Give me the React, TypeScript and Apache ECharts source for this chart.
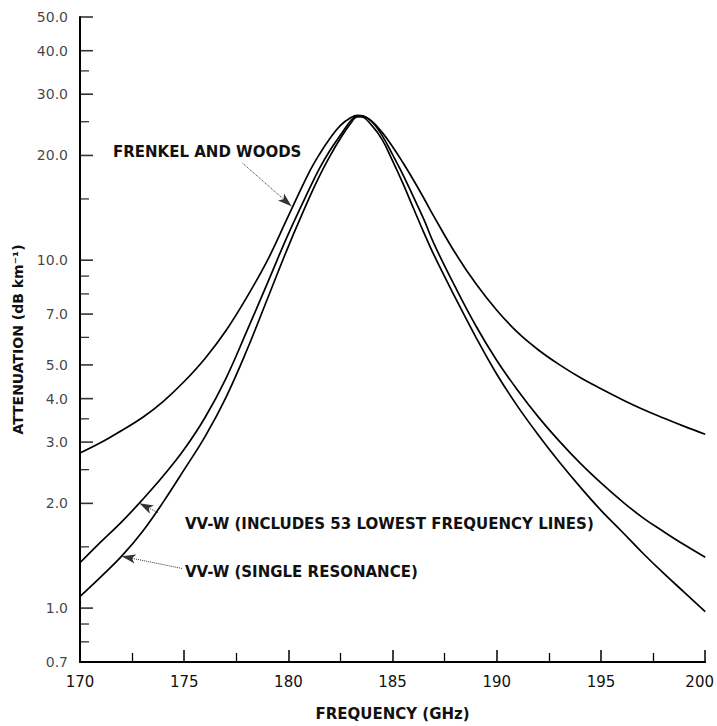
import React, { useEffect, useRef } from "react";
import * as echarts from "echarts";

// Frequency grid (GHz)
const freq = [170, 171, 172, 173, 174, 175, 176, 177, 178, 179, 180, 181, 181.5, 182, 182.5, 183, 183.3, 183.5, 184, 184.5, 185, 185.5, 186, 186.5, 187, 188, 189, 190, 191, 192, 193, 194, 195, 196, 197, 198, 199, 200];

// Attenuation (dB/km)
const frenkelWoods = [2.79, 2.99, 3.24, 3.53, 3.93, 4.48, 5.22, 6.27, 7.82, 10.0, 13.4, 17.9, 20.2, 22.4, 24.4, 25.7, 26.1, 26.05, 25.1, 23.3, 21.2, 19.05, 17.0, 15.07, 13.3, 10.5, 8.55, 7.18, 6.2, 5.52, 5.01, 4.6, 4.27, 3.98, 3.73, 3.52, 3.33, 3.16];
const vvw53 = [1.35, 1.55, 1.77, 2.05, 2.4, 2.86, 3.53, 4.57, 6.24, 8.61, 11.9, 16.0, 18.4, 20.7, 22.9, 25.2, 26.0, 26.0, 25.0, 22.8, 20.1, 17.6, 15.2, 13.1, 11.1, 8.39, 6.47, 5.15, 4.23, 3.54, 3.02, 2.61, 2.29, 2.03, 1.82, 1.66, 1.52, 1.4];
const vvwSingle = [1.08, 1.23, 1.41, 1.66, 2.02, 2.5, 3.11, 4.03, 5.5, 7.76, 10.96, 15.1, 17.5, 19.95, 22.4, 24.8, 25.8, 25.8, 24.4, 22.2, 19.3, 16.6, 14.1, 12.0, 10.3, 7.82, 6.0, 4.7, 3.8, 3.14, 2.63, 2.23, 1.91, 1.66, 1.44, 1.26, 1.11, 0.977];

// Y axis tick values
const yLabelTicks = [50, 40, 30, 20, 10, 7, 5, 4, 3, 2, 1, 0.7];
const yMinorTicks = [35, 25, 15, 9, 8, 6, 3.5, 2.5, 1.5, 0.9, 0.8];

// Annotation leaders [fromFreq, fromVal, toFreq, toVal]
const fwLeader = [177.8, 19.0, 180.15, 14.3];
const v53Leader = [173.75, 1.88, 172.85, 2.0];
const singleLeader = [174.9, 1.3, 172.0, 1.41];

const FONT = "DejaVu Sans";

function leader(l: number[]) {
  return {
    silent: true,
    symbol: ["none", "arrow"],
    symbolSize: [7, 14],
    label: { show: false },
    lineStyle: { color: "#333", type: "dotted", width: 1 },
    data: [[{ coord: [l[0], l[1]] }, { coord: [l[2], l[3]] }]],
  };
}

export default function App() {
  const ref = useRef<HTMLDivElement>(null);
  useEffect(() => {
    document.body.style.margin = "0";
    if (!ref.current) return;
    const chart = echarts.init(ref.current, null, { renderer: "svg" });
    const mk = (vals: number[]) => freq.map((f, i) => [f, vals[i]]);
    const lineBase = {
      type: "line",
      smooth: 0.4,
      showSymbol: false,
      symbol: "none",
      silent: true,
      lineStyle: { color: "#000", width: 1.7 },
      itemStyle: { color: "#000" },
    };
    chart.setOption({
      animation: false,
      backgroundColor: "#fff",
      grid: { left: 80, right: 11, top: 17, bottom: 64 },
      xAxis: {
        type: "value",
        min: 170,
        max: 200,
        interval: 5,
        name: "FREQUENCY (GHz)",
        nameLocation: "middle",
        nameGap: 44,
        nameTextStyle: { fontFamily: FONT, fontSize: 15, fontWeight: "bold", color: "#111" },
        axisLine: { show: true, lineStyle: { color: "#000", width: 2 } },
        axisTick: { show: true, inside: true, length: 12, lineStyle: { color: "#000", width: 1.5 } },
        minorTick: { show: true, splitNumber: 2, length: 9, lineStyle: { color: "#000", width: 1.3 } },
        axisLabel: {
          fontFamily: FONT,
          fontSize: 15,
          color: "#111",
          margin: 12,
          formatter: (v: number) => (v === 200 ? "{e|200}" : String(v)),
          rich: { e: { fontFamily: FONT, fontSize: 15, color: "#111", padding: [0, 11, 0, 0] } },
        },
        splitLine: { show: false },
      },
      yAxis: {
        type: "log",
        logBase: 10,
        min: 0.7,
        max: 50,
        name: "ATTENUATION (dB km⁻¹)",
        nameLocation: "middle",
        nameRotate: 90,
        nameGap: 55,
        nameTextStyle: { fontFamily: FONT, fontSize: 14, fontWeight: "bold", color: "#111" },
        axisLine: { show: true, lineStyle: { color: "#000", width: 2 } },
        axisTick: { show: false },
        axisLabel: { show: false },
        splitLine: { show: false },
        minorTick: { show: false },
      },
      series: [
        { ...lineBase, name: "Frenkel and Woods", data: mk(frenkelWoods), markLine: leader(fwLeader) },
        { ...lineBase, name: "VV-W (53 lines)", data: mk(vvw53), markLine: leader(v53Leader) },
        { ...lineBase, name: "VV-W (single)", data: mk(vvwSingle), markLine: leader(singleLeader) },
        {
          type: "scatter",
          silent: true,
          clip: false,
          symbol: "rect",
          symbolSize: [13, 1.6],
          symbolOffset: [6.5, 0],
          itemStyle: { color: "#000" },
          label: {
            show: true,
            position: "left",
            distance: 12,
            fontFamily: FONT,
            fontSize: 14,
            color: "#111",
            formatter: (p: any) => Number(p.value[1]).toFixed(1),
          },
          data: yLabelTicks.map((v) => [170, v]),
        },
        {
          type: "scatter",
          silent: true,
          clip: false,
          symbol: "rect",
          symbolSize: [9, 1.3],
          symbolOffset: [4.5, 0],
          itemStyle: { color: "#000" },
          data: yMinorTicks.map((v) => [170, v]),
        },
      ],
      graphic: [
        { type: "text", left: 113, top: 144, style: { text: "FRENKEL AND WOODS", font: `bold 15px ${FONT}`, fill: "#111" } },
        { type: "text", left: 185, top: 516, style: { text: "VV-W (INCLUDES 53 LOWEST FREQUENCY LINES)", font: `bold 15px ${FONT}`, fill: "#111" } },
        { type: "text", left: 185, top: 564, style: { text: "VV-W (SINGLE RESONANCE)", font: `bold 15px ${FONT}`, fill: "#111" } },
      ],
    });
    return () => chart.dispose();
  }, []);
  return <div ref={ref} style={{ width: 717, height: 726 }} />;
}
